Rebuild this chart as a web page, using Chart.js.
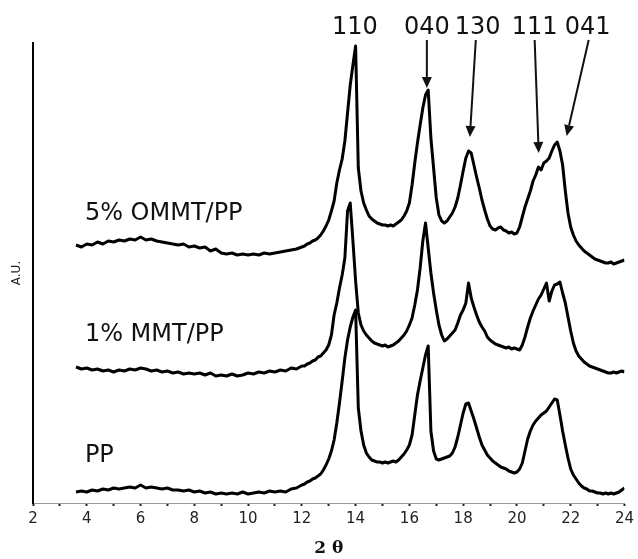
<!DOCTYPE html>
<html>
<head>
<meta charset="utf-8">
<script src="https://cdn.jsdelivr.net/npm/chart.js@4.4.0/dist/chart.umd.min.js"></script>
<style>
  html, body { margin: 0; padding: 0; background: #fff; }
  canvas { display: block; }
</style>
</head>
<body>
<canvas id="xrd" width="638" height="559"></canvas>
<script>
// 2 theta grid (deg)
const twoTheta = [
  3.6, 3.8, 4.0, 4.2, 4.4, 4.6, 4.8, 5.0, 5.2, 5.4,
  5.6, 5.8, 6.0, 6.2, 6.4, 6.6, 6.8, 7.0, 7.2, 7.4,
  7.6, 7.8, 8.0, 8.2, 8.4, 8.6, 8.8, 9.0, 9.2, 9.4,
  9.6, 9.8, 10.0, 10.2, 10.4, 10.6, 10.8, 11.0, 11.2, 11.4,
  11.6, 11.8, 12.0,
  12.1, 12.2, 12.3, 12.4, 12.5, 12.6, 12.7, 12.8, 12.9, 13.0,
  13.1, 13.2, 13.3, 13.4, 13.5, 13.6, 13.7, 13.8, 13.9, 14.0,
  14.1, 14.2, 14.3, 14.4, 14.5, 14.6, 14.7, 14.8, 14.9, 15.0,
  15.1, 15.2, 15.3, 15.4, 15.5, 15.6, 15.7, 15.8, 15.9, 16.0,
  16.1, 16.2, 16.3, 16.4, 16.5, 16.6, 16.7, 16.8, 16.9, 17.0,
  17.1, 17.2, 17.3, 17.4, 17.5, 17.6, 17.7, 17.8, 17.9, 18.0,
  18.1, 18.2, 18.3, 18.4, 18.5, 18.6, 18.7, 18.8, 18.9, 19.0,
  19.1, 19.2, 19.3, 19.4, 19.5, 19.6, 19.7, 19.8, 19.9, 20.0,
  20.1, 20.2, 20.3, 20.4, 20.5, 20.6, 20.7, 20.8, 20.9, 21.0,
  21.1, 21.2, 21.3, 21.4, 21.5, 21.6, 21.7, 21.8, 21.9, 22.0,
  22.1, 22.2, 22.3, 22.4, 22.5, 22.6, 22.7, 22.8, 22.9, 23.0,
  23.1, 23.2, 23.3, 23.4, 23.5, 23.6, 23.7, 23.8, 23.9, 24.0
];

// intensities (a.u., curves already offset)
const pp = [
  11, 12, 11, 13, 12, 14, 13, 15, 14, 15,
  16, 15, 18, 15, 16, 15, 14, 15, 13, 13,
  12, 13, 11, 12, 10, 11, 9, 10, 9, 10,
  9, 11, 9, 10, 11, 10, 12, 11, 12, 11,
  14, 15, 18,
  19, 21, 22, 24, 25, 27, 29, 33, 38, 44,
  52, 63, 80, 100, 122, 145, 163, 176, 186, 193,
  95, 72, 58, 50, 46, 43, 42, 41, 41, 40,
  41, 40, 41, 42, 41, 43, 46, 49, 53, 58,
  68, 88, 108, 122, 135, 148, 157, 72, 52, 44,
  43, 44, 45, 46, 47, 50, 56, 66, 78, 90,
  99, 100, 92, 84, 75, 66, 58, 53, 48, 45,
  42, 40, 38, 36, 35, 34, 32, 31, 30, 31,
  34, 40, 52, 64, 72, 78, 82, 85, 88, 90,
  92, 96, 100, 104, 103, 88, 72, 58, 45, 34,
  28, 24, 20, 17, 15, 14, 12, 12, 11, 10,
  10, 9, 10, 9, 10, 9, 10, 11, 13, 15
];
const mmt1 = [
  136, 134, 135, 133, 134, 132, 133, 131, 133, 132,
  134, 133, 135, 134, 132, 133, 131, 132, 130, 131,
  129, 130, 129, 130, 128, 130, 127, 128, 127, 129,
  127, 128, 130, 129, 131, 130, 132, 131, 133, 132,
  135, 134, 137,
  137, 139, 140, 142, 143, 146, 147, 150, 153, 158,
  168, 188, 200, 215, 228, 245, 292, 300, 262, 222,
  190, 178, 172, 168, 165, 162, 160, 159, 158, 157,
  158, 156, 157, 158, 160, 162, 165, 168, 172, 178,
  185, 198, 213, 235, 262, 280, 255, 230, 210, 193,
  178, 168, 162, 164, 167, 170, 173, 180, 188, 193,
  200, 220, 205, 196, 188, 181, 176, 172, 166, 163,
  161, 159, 158, 157, 156, 155, 156, 154, 155, 154,
  153, 158, 166, 176, 185, 192, 198, 204, 208, 214,
  220, 202, 212, 218, 219, 221, 210, 200, 186, 172,
  160, 152, 147, 144, 141, 139, 137, 136, 135, 134,
  133, 132, 131, 130, 130, 131, 130, 131, 132, 131
];
const ommt5 = [
  258, 256, 259, 258, 261, 259, 262, 261, 263, 262,
  264, 263, 266, 263, 264, 262, 261, 260, 259, 258,
  259, 256, 257, 255, 256, 252, 254, 250, 249, 250,
  248, 249, 248, 249, 248, 250, 249, 250, 251, 252,
  253, 254, 256,
  257, 259, 260, 262, 263, 265, 268, 272, 277, 283,
  292, 302, 320, 333, 344, 362, 390, 418, 438, 457,
  335, 312, 300, 293, 287, 284, 282, 280, 279, 278,
  278, 277, 278, 277, 279, 281, 283, 287, 292, 300,
  318, 340, 360, 378, 395, 408, 413, 365, 335, 305,
  288, 282, 280, 282, 286, 290, 296, 305, 318, 332,
  345, 352, 350, 338, 326, 315, 303, 293, 284, 277,
  274, 273, 275, 276, 273, 272, 270, 271, 269, 270,
  276, 286, 296, 304, 312, 322, 328, 336, 333, 340,
  342, 345, 352, 358, 361, 352, 338, 312, 290, 276,
  268, 262, 258, 255, 252, 250, 248, 246, 244, 243,
  242, 241, 240, 240, 241, 239, 240, 241, 242, 243
];

// curve names, placed at (2 theta, a.u.)
const sampleNames = ['PP', '1% MMT/PP', '5% OMMT/PP'];
const sampleNameX = [3.93, 3.93, 3.93];
const sampleNameY = [47, 168, 289];

// reflection labels and arrows
const peakNames = ['110', '040', '130', '111', '041'];
const peakNameX = [13.97, 16.65, 18.54, 20.66, 22.63];
const peakNameY = 475;
const arrowFromX = [null, 16.65, 18.47, 20.66, 22.67];
const arrowToX = [null, 16.65, 18.25, 20.81, 21.85];
const arrowFromY = [null, 463, 463, 463, 463];
const arrowToY = [null, 415, 366, 350, 367];

function toPoints(ys) {
  return twoTheta.map(function (t, i) { return { x: t, y: ys[i] }; });
}

const annotations = {
  id: 'annotations',
  afterDatasetsDraw(chart) {
    const ctx = chart.ctx;
    const xs = chart.scales.x;
    const ys = chart.scales.y;
    ctx.save();
    ctx.fillStyle = '#111';
    ctx.strokeStyle = '#111';
    ctx.font = '24px "DejaVu Sans"';
    ctx.textBaseline = 'middle';

    ctx.textAlign = 'left';
    sampleNames.forEach(function (name, i) {
      ctx.fillText(name, xs.getPixelForValue(sampleNameX[i]), ys.getPixelForValue(sampleNameY[i]));
    });

    ctx.textAlign = 'center';
    peakNames.forEach(function (name, i) {
      ctx.fillText(name, xs.getPixelForValue(peakNameX[i]), ys.getPixelForValue(peakNameY));
      if (arrowFromX[i] === null) return;
      const x0 = xs.getPixelForValue(arrowFromX[i]);
      const y0 = ys.getPixelForValue(arrowFromY[i]);
      const x1 = xs.getPixelForValue(arrowToX[i]);
      const y1 = ys.getPixelForValue(arrowToY[i]);
      const a = Math.atan2(y1 - y0, x1 - x0);
      const head = 11, half = 5;
      const bx = x1 - head * Math.cos(a);
      const by = y1 - head * Math.sin(a);
      ctx.lineWidth = 2;
      ctx.beginPath();
      ctx.moveTo(x0, y0);
      ctx.lineTo(bx, by);
      ctx.stroke();
      ctx.beginPath();
      ctx.moveTo(x1, y1);
      ctx.lineTo(bx + half * Math.sin(a), by - half * Math.cos(a));
      ctx.lineTo(bx - half * Math.sin(a), by + half * Math.cos(a));
      ctx.closePath();
      ctx.fill();
    });
    ctx.restore();
  }
};

const lineStyle = {
  borderColor: '#000',
  borderWidth: 3,
  borderJoinStyle: 'round',
  pointRadius: 0,
  tension: 0,
  fill: false
};

new Chart(document.getElementById('xrd'), {
  type: 'line',
  data: {
    datasets: [
      Object.assign({ label: sampleNames[0], data: toPoints(pp) }, lineStyle),
      Object.assign({ label: sampleNames[1], data: toPoints(mmt1) }, lineStyle),
      Object.assign({ label: sampleNames[2], data: toPoints(ommt5) }, lineStyle)
    ]
  },
  options: {
    responsive: false,
    animation: false,
    layout: { padding: { top: 43, right: 13, left: 0, bottom: 0 } },
    plugins: {
      legend: { display: false },
      tooltip: { enabled: false }
    },
    scales: {
      x: {
        type: 'linear',
        min: 2,
        max: 24,
        afterFit: function (axis) { axis.height = 56; },
        border: { display: true, color: '#999', width: 1 },
        grid: {
          display: true,
          drawOnChartArea: false,
          drawTicks: true,
          tickLength: 3,
          tickWidth: 2,
          tickColor: '#222'
        },
        ticks: {
          stepSize: 1,
          autoSkip: false,
          maxRotation: 0,
          padding: 4,
          color: '#222',
          font: { family: 'DejaVu Sans', size: 15 },
          callback: function (v) { return v % 2 === 0 ? String(v) : ''; }
        },
        title: {
          display: true,
          text: '2 θ',
          color: '#111',
          padding: { top: 0, bottom: 0 },
          font: { family: 'DejaVu Serif', size: 17, weight: 'bold' }
        }
      },
      y: {
        min: 0,
        max: 460,
        afterFit: function (axis) { axis.width = 33; },
        border: { display: true, color: '#000', width: 2 },
        grid: { display: true, drawOnChartArea: false, drawTicks: false },
        ticks: { display: false },
        title: {
          display: true,
          text: 'A.U.',
          color: '#222',
          padding: { top: 10, bottom: 0 },
          font: { family: 'DejaVu Sans', size: 12 }
        }
      }
    }
  },
  plugins: [annotations]
});
</script>
</body>
</html>
